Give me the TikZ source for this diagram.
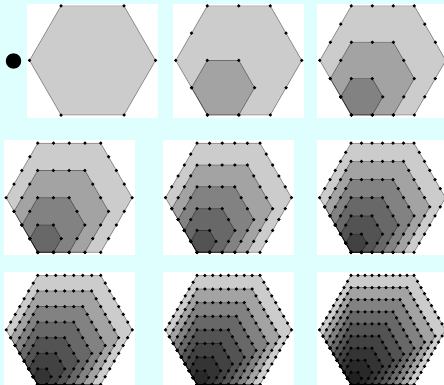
\documentclass[tikz,border=0pt]{standalone}
\usepackage{tikz}

\definecolor{pagecyan}{HTML}{DFFFFF}
\tikzset{
  hexfill/.style={fill=black, fill opacity=0.2, draw=black, draw opacity=0.38, line width=0.7pt},
  hexdot/.style={fill=black},
}
% one hexagon of k steps: bottom left corner (#1,#2), step #3, k = #4
\newcommand{\hexring}[4]{%
  \pgfmathsetmacro{\hexlen}{#3*#4}%
  \draw[hexfill] (#1,#2) -- ++(0:\hexlen) -- ++(-60:\hexlen) -- ++(-120:\hexlen)
    -- ++(-180:\hexlen) -- ++(-240:\hexlen) -- cycle;
  \foreach \a/\u/\v in {0/0/0, 60/1/0, 120/1.5/-0.866, 180/1/-1.732, 240/0/-1.732, 300/-0.5/-0.866}
    \foreach \i in {1,...,#4}
      \fill[hexdot] ({#1+#3*(#4*\u+\i*cos(\a))},{#2+#3*(#4*\v-\i*sin(\a))}) circle (1.75pt);
}

\begin{document}
\begin{tikzpicture}[x=1pt, y=-1pt]

  %% ════ page and white panels ════
  \fill[pagecyan] (0,0) rectangle (444,385);
  \fill[white] (27,4) rectangle (158,118);
  \fill[white] (173,4) rectangle (304,118);
  \fill[white] (317,4) rectangle (444,118);
  \fill[white] (4,140) rectangle (135,255);
  \fill[white] (163,140) rectangle (294,255);
  \fill[white] (317,140) rectangle (444,255);
  \fill[white] (4,272) rectangle (135,385);
  \fill[white] (163,272) rectangle (294,385);
  \fill[white] (317,272) rectangle (444,385);

  %% the big dot left of the first hexagon
  \fill[black] (13.5,61) circle (7.7pt);

  %% ════ row 1 ════
  \hexring{61}{115}{63}{1}
  \hexring{207.3}{115}{31.5}{2}
  \hexring{207.3}{115}{31.5}{1}
  \hexring{351.3}{115}{21}{3}
  \hexring{351.3}{115}{21}{2}
  \hexring{351.3}{115}{21}{1}

  %% ════ row 2 ════
  \hexring{37.7}{252.3}{15.75}{4}
  \hexring{37.7}{252.3}{15.75}{3}
  \hexring{37.7}{252.3}{15.75}{2}
  \hexring{37.7}{252.3}{15.75}{1}
  \hexring{197}{252.3}{12.6}{5}
  \hexring{197}{252.3}{12.6}{4}
  \hexring{197}{252.3}{12.6}{3}
  \hexring{197}{252.3}{12.6}{2}
  \hexring{197}{252.3}{12.6}{1}
  \hexring{351}{252.3}{10.5}{6}
  \hexring{351}{252.3}{10.5}{5}
  \hexring{351}{252.3}{10.5}{4}
  \hexring{351}{252.3}{10.5}{3}
  \hexring{351}{252.3}{10.5}{2}
  \hexring{351}{252.3}{10.5}{1}

  %% ════ row 3 ════
  \hexring{37.7}{384.5}{9}{7}
  \hexring{37.7}{384.5}{9}{6}
  \hexring{37.7}{384.5}{9}{5}
  \hexring{37.7}{384.5}{9}{4}
  \hexring{37.7}{384.5}{9}{3}
  \hexring{37.7}{384.5}{9}{2}
  \hexring{37.7}{384.5}{9}{1}
  \hexring{197}{384.5}{7.875}{8}
  \hexring{197}{384.5}{7.875}{7}
  \hexring{197}{384.5}{7.875}{6}
  \hexring{197}{384.5}{7.875}{5}
  \hexring{197}{384.5}{7.875}{4}
  \hexring{197}{384.5}{7.875}{3}
  \hexring{197}{384.5}{7.875}{2}
  \hexring{197}{384.5}{7.875}{1}
  \hexring{351}{384.5}{7}{9}
  \hexring{351}{384.5}{7}{8}
  \hexring{351}{384.5}{7}{7}
  \hexring{351}{384.5}{7}{6}
  \hexring{351}{384.5}{7}{5}
  \hexring{351}{384.5}{7}{4}
  \hexring{351}{384.5}{7}{3}
  \hexring{351}{384.5}{7}{2}
  \hexring{351}{384.5}{7}{1}

  % keep the page at the size of the reference
  \pgfresetboundingbox
  \path[use as bounding box] (0,0) rectangle (444,385);
\end{tikzpicture}
\end{document}
